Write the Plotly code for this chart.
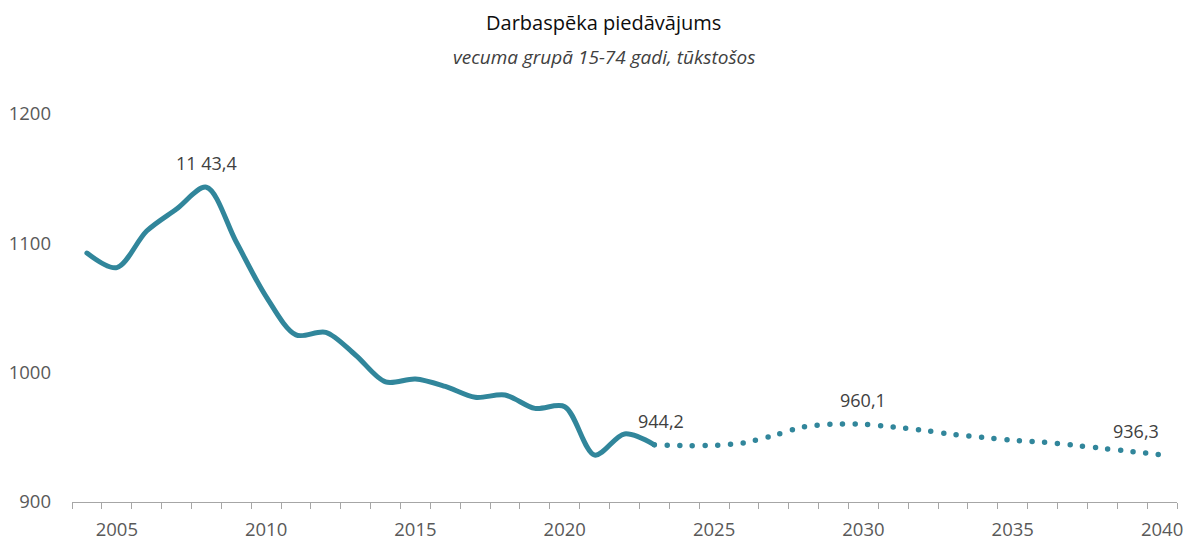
import plotly.graph_objects as go

# Labour supply, age group 15-74, thousands
years_hist = list(range(2004, 2024))
values_hist = [1092.5, 1081.2, 1109.5, 1126.5, 1143.4, 1101.0, 1058.8, 1029.2,
               1031.2, 1013.5, 992.8, 995.1, 989.4, 981.0, 982.7, 972.4,
               973.7, 936.3, 952.6, 944.2]

years_proj = list(range(2023, 2041))
values_proj = [944.2, 943.6, 943.8, 945.8, 951.5, 958.0, 960.2, 960.1, 958.0,
               955.4, 952.3, 950.0, 947.8, 946.3, 944.0, 941.5, 939.0, 936.3]

# value labels: (year, value, text, horizontal shift)
labels = [(2008, 1143.4, "11 43,4", 0),
          (2023, 944.2, "944,2", 7),
          (2030, 960.1, "960,1", 0),
          (2040, 936.3, "936,3", -26)]

title_text = "Darbaspēka piedāvājums"
subtitle_text = "vecuma grupā 15-74 gadi, tūkstošos"

x_tick_vals = [2005, 2010, 2015, 2020, 2025, 2030, 2035, 2040]
y_tick_vals = [900, 1000, 1100, 1200]

LINE = "#31869B"
FONT = "Open Sans"

fig = go.Figure()
fig.add_trace(go.Scatter(
    x=years_hist, y=values_hist, mode="lines",
    line=dict(color=LINE, width=5, shape="spline", smoothing=0.9),
    hoverinfo="skip", showlegend=False))
fig.add_trace(go.Scatter(
    x=years_proj, y=values_proj, mode="lines",
    line=dict(color=LINE, width=5.5, shape="spline", smoothing=0.9,
              dash="0px,12.7px"),
    hoverinfo="skip", showlegend=False))

for yr, val, txt, dx in labels:
    fig.add_annotation(x=yr, y=val, text=txt, showarrow=False,
                       yshift=24, xshift=dx,
                       font=dict(family=FONT, size=18, color="#404040"))

fig.add_annotation(xref="paper", yref="paper", x=0.4814, y=1.237,
                   text=title_text, showarrow=False, yanchor="middle",
                   font=dict(family=FONT, size=20, color="#0d0d0d"))
fig.add_annotation(xref="paper", yref="paper", x=0.4814, y=1.147,
                   text="<i>" + subtitle_text + "</i>", showarrow=False,
                   yanchor="middle",
                   font=dict(family=FONT, size=19, color="#404040"))

fig.update_layout(
    width=1188, height=543,
    margin=dict(l=72, r=11, t=114, b=41, autoexpand=False),
    paper_bgcolor="white", plot_bgcolor="white",
    font=dict(family=FONT, color="#595959", size=18),
    xaxis=dict(range=[2003.5, 2040.5], showgrid=False, zeroline=False,
               automargin=False,
               showline=True, linecolor="#a6a6a6", linewidth=1,
               tickmode="array", tickvals=x_tick_vals,
               ticktext=[str(v) for v in x_tick_vals], ticks="",
               ticklabelstandoff=11,
               tickfont=dict(family=FONT, size=18.5, color="#595959"),
               minor=dict(ticks="outside", tickmode="array",
                          tickvals=[y + 0.5 for y in range(2003, 2041)],
                          ticklen=6, tickcolor="#a6a6a6", tickwidth=1,
                          showgrid=False)),
    yaxis=dict(range=[900, 1200], showgrid=False, zeroline=False,
               automargin=False,
               showline=False, tickmode="array", tickvals=y_tick_vals,
               ticks="", ticklabelstandoff=20,
               tickfont=dict(family=FONT, size=18.5, color="#595959")),
)

round_caps = ("var s=document.createElement('style');"
              "s.textContent='.scatterlayer .js-line{stroke-linecap:round;}';"
              "document.head.appendChild(s);")
fig.write_html("out.html", post_script=round_caps)
